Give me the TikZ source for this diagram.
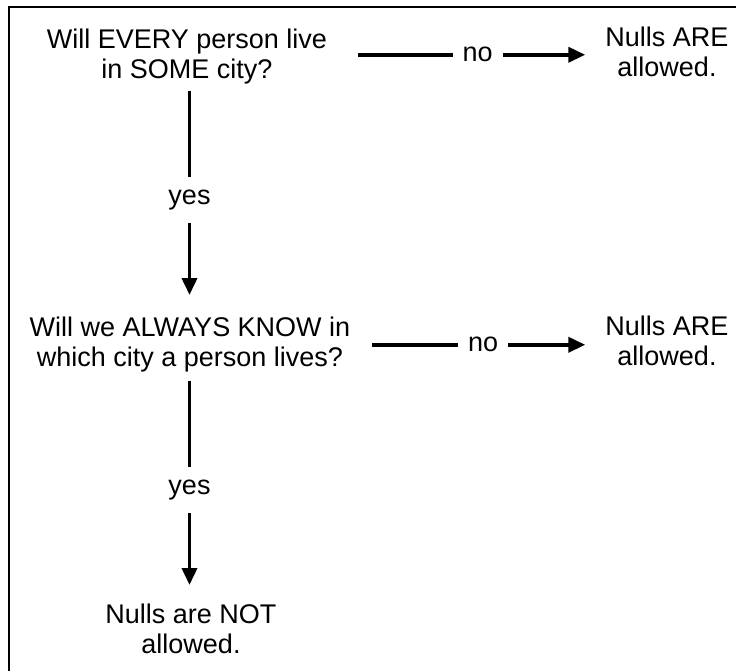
\documentclass[tikz,border=0pt]{standalone}
\usepackage{fontspec}
\setmainfont{Liberation Sans}
\usetikzlibrary{arrows.meta}

\tikzset{
  txt/.style={anchor=north, align=center, inner sep=0pt,
              font=\fontsize{27}{30}\selectfont},
  flow/.style={line width=3.7pt,
               -{Triangle[length=17pt,width=15pt]}},
  lbl/.style={fill=white, inner xsep=10pt, inner ysep=13pt,
              font=\fontsize{27}{30}\selectfont},
  frame/.style={line width=2pt}
}

\begin{document}
\begin{tikzpicture}[x=1pt,y=-1pt]
  \useasboundingbox (0,0) rectangle (736,671);

  % outer frame edges
  \draw[frame] (8.5,671) -- (8.5,7.5) -- (736,7.5);

  % questions and outcomes
  \node[txt] (q1) at (187,29) {Will EVERY person live\\in SOME city?};
  \node[txt] (n1) at (667,27) {Nulls ARE\\allowed.};
  \node[txt] (q2) at (190,317) {Will we ALWAYS KNOW in\\which city a person lives?};
  \node[txt] (n2) at (667,316) {Nulls ARE\\allowed.};
  \node[txt] (n3) at (191,604) {Nulls are NOT\\allowed.};

  \coordinate (spine) at (189.5,0);

  % "no" branches
  \draw[flow] ([xshift=31pt,yshift=2pt]q1.east)
      -- node[lbl, pos=0.526] {no}
         ([xshift=-20pt,yshift=2pt]q1.east -| n1.west);
  \draw[flow] ([xshift=22pt]q2.east)
      -- node[lbl, pos=0.52] {no}
         ([xshift=-20pt]q2.east -| n2.west);

  % "yes" branches
  \draw[flow] ([yshift=-6pt]q1.south -| spine)
      -- node[lbl, pos=0.537] {yes}
         ([yshift=22pt]q2.north -| spine);
  \draw[flow] ([yshift=-8pt]q2.south -| spine)
      -- node[lbl, pos=0.537] {yes}
         ([yshift=19pt]n3.north -| spine);
\end{tikzpicture}
\end{document}
